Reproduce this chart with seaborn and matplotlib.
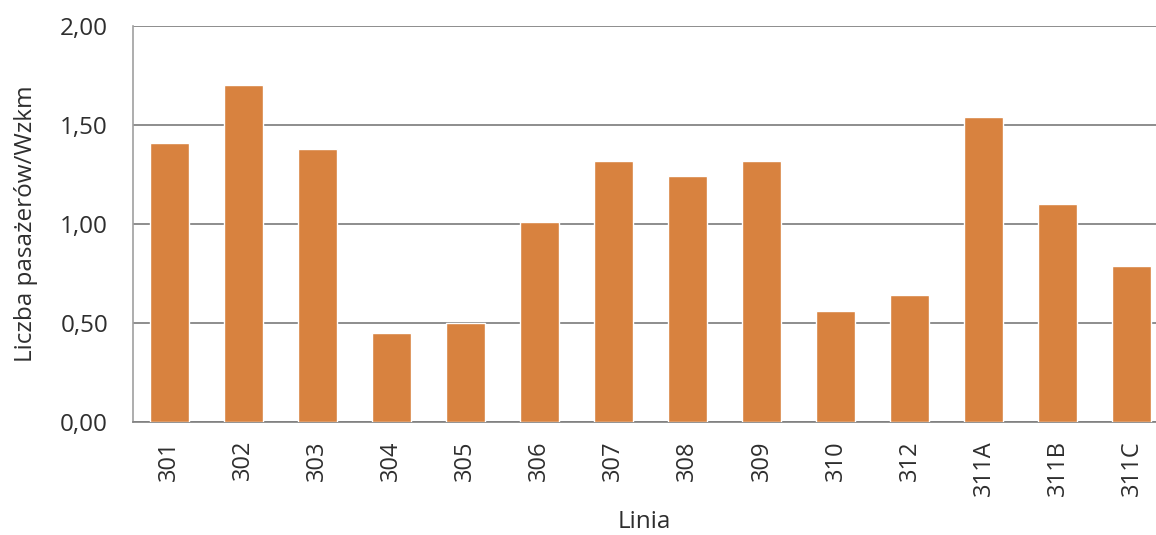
import matplotlib
matplotlib.use("Agg")
import matplotlib.pyplot as plt
import seaborn as sns
import pandas as pd

# Passenger load per vehicle-km for each bus line
lines = ["301", "302", "303", "304", "305", "306", "307",
         "308", "309", "310", "312", "311A", "311B", "311C"]
values = [1.41, 1.70, 1.38, 0.45, 0.50, 1.01, 1.32,
          1.24, 1.32, 0.56, 0.64, 1.54, 1.10, 0.79]
y_ticks = [0.0, 0.5, 1.0, 1.5, 2.0]
y_tick_labels = ["0,00", "0,50", "1,00", "1,50", "2,00"]

df = pd.DataFrame({"Linia": lines, "Wartosc": values})

sns.set_theme(style="white")
plt.rcParams["font.family"] = ["Open Sans", "DejaVu Sans"]

W, H = 1156, 535
fig = plt.figure(figsize=(W / 100, H / 100), dpi=100)
ax = fig.add_axes([133 / W, (H - 422) / H, 1 - 133 / W, (422 - 26) / H])

sns.barplot(data=df, x="Linia", y="Wartosc", order=lines, color="#D8823F",
            saturation=1, width=0.53, ax=ax, zorder=3)

ax.set_ylim(0, 2.0)
ax.set_xlim(-0.49, 13.33)
ax.set_yticks(y_ticks)
ax.set_yticklabels(y_tick_labels)
ax.yaxis.grid(True, color="#7a7a7a", linewidth=1.2, zorder=0)
ax.set_axisbelow(True)

text_col = "#2e2e2e"
ax.tick_params(axis="y", length=0, pad=18, labelsize=17.5, labelcolor=text_col)
ax.tick_params(axis="x", length=0, pad=13, labelsize=17, labelcolor=text_col,
               rotation=90)

for side in ["top", "right"]:
    ax.spines[side].set_visible(False)
ax.spines["left"].set_color("#a0a0a0")
ax.spines["bottom"].set_color("#808080")
for side in ["left", "bottom"]:
    ax.spines[side].set_linewidth(1.2)

ax.set_xlabel("Linia", fontsize=17.5, color=text_col, labelpad=10)
ax.set_ylabel("Liczba pasażerów/Wzkm", fontsize=17.5, color=text_col, labelpad=16)

fig.savefig("out.png", dpi=100, facecolor="white")
